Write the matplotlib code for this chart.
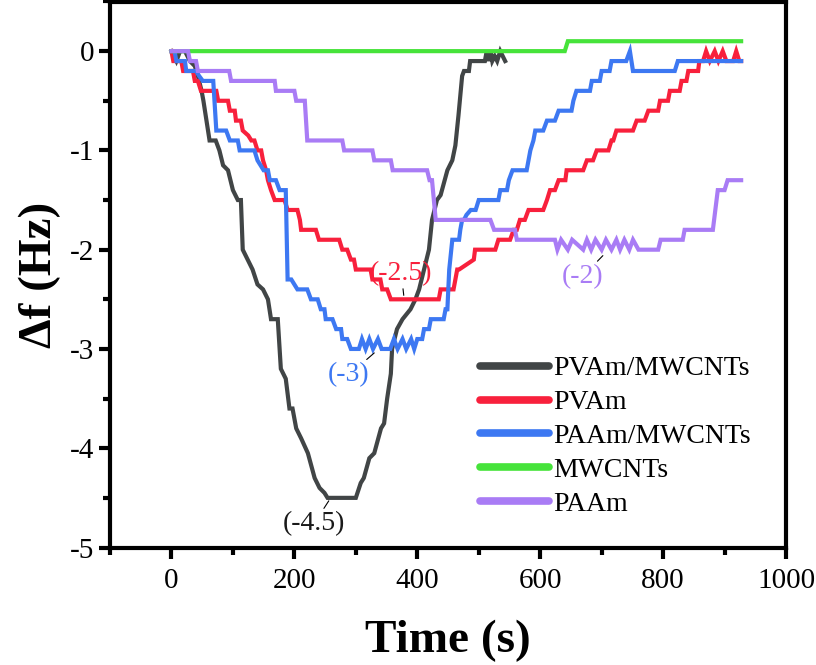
import numpy as np
import matplotlib
matplotlib.use("Agg")
import matplotlib.pyplot as plt
from matplotlib.ticker import MultipleLocator

plt.rcParams['font.family'] = ['Liberation Serif', 'DejaVu Serif']
plt.rcParams['axes.unicode_minus'] = False

# PVAm/MWCNTs
t_pvam_cnt = [0, 8, 14, 22, 30, 38, 43, 49, 52, 57, 62, 72, 78, 84, 92, 100, 108, 113, 116, 124, 132, 140,
              149, 157, 162, 173, 178, 186, 192, 197, 203, 211, 222, 233, 241, 249, 254, 300, 308, 313, 322,
              330, 341, 346, 351, 357, 359, 367, 376, 389, 397, 403, 411, 419, 424, 432, 438, 449, 457, 462,
              467, 473, 476, 484, 486, 510, 513, 516, 519, 522, 526, 530, 535, 543]
f_pvam_cnt = [0, -0.1, 0, 0, -0.1, -0.15, -0.25, -0.4, -0.5, -0.7, -0.9, -0.9, -1.0, -1.15, -1.2, -1.4,
              -1.5, -1.5, -2.0, -2.1, -2.2, -2.35, -2.4, -2.5, -2.7, -2.7, -3.2, -3.3, -3.6, -3.6, -3.8,
              -3.9, -4.05, -4.3, -4.4, -4.45, -4.5, -4.5, -4.35, -4.3, -4.1, -4.05, -3.8, -3.75, -3.5,
              -3.25, -3.0, -2.8, -2.7, -2.6, -2.5, -2.4, -2.2, -2.0, -1.7, -1.5, -1.45, -1.2, -1.1, -0.95,
              -0.65, -0.25, -0.2, -0.2, -0.1, -0.1, 0, -0.1, 0, -0.1, -0.05, -0.1, 0, -0.1]

# PVAm
t_pvam = [0, 3, 16, 19, 35, 38, 43, 48, 73, 76, 92, 95, 103, 105, 113, 116, 125, 130, 135, 140, 146, 149,
          154, 157, 162, 168, 184, 189, 205, 209, 211, 235, 240, 273, 278, 286, 292, 297, 300, 324, 327,
          340, 343, 351, 357, 435, 438, 459, 462, 465, 468, 492, 494, 527, 532, 551, 557, 562, 567, 575,
          581, 605, 611, 616, 624, 630, 641, 643, 670, 676, 686, 692, 711, 716, 719, 724, 751, 757, 770,
          776, 792, 795, 808, 811, 827, 830, 838, 841, 857, 859, 865, 870, 876, 884, 890, 897, 903, 914,
          919, 924, 927]
f_pvam = [0, -0.1, -0.1, -0.2, -0.2, -0.3, -0.3, -0.4, -0.4, -0.5, -0.5, -0.6, -0.6, -0.7, -0.7, -0.8,
          -0.85, -0.9, -0.9, -1.0, -1.0, -1.1, -1.2, -1.3, -1.4, -1.5, -1.5, -1.6, -1.6, -1.7, -1.8, -1.8,
          -1.9, -1.9, -2.0, -2.0, -2.1, -2.1, -2.2, -2.2, -2.3, -2.3, -2.4, -2.4, -2.5, -2.5, -2.4, -2.4,
          -2.3, -2.2, -2.2, -2.1, -2.0, -2.0, -1.9, -1.9, -1.8, -1.8, -1.7, -1.7, -1.6, -1.6, -1.5, -1.4,
          -1.4, -1.3, -1.3, -1.2, -1.2, -1.1, -1.1, -1.0, -1.0, -0.9, -0.9, -0.8, -0.8, -0.7, -0.7, -0.6,
          -0.6, -0.5, -0.5, -0.4, -0.4, -0.3, -0.3, -0.2, -0.2, -0.1, -0.1, 0, -0.1, 0, -0.1, 0, -0.1,
          -0.1, 0, -0.1, -0.1]

# PAAm/MWCNTs
t_paam_cnt = [0, 5, 8, 22, 24, 40, 45, 51, 68, 73, 89, 95, 108, 111, 135, 140, 150, 157, 160, 170, 176,
              186, 189, 195, 205, 221, 227, 238, 243, 249, 251, 262, 268, 276, 278, 286, 292, 305, 310,
              316, 322, 328, 336, 342, 356, 362, 368, 376, 382, 390, 395, 400, 408, 411, 419, 422, 443,
              446, 449, 452, 457, 468, 470, 473, 476, 480, 487, 495, 500, 532, 535, 546, 549, 555, 578,
              581, 584, 589, 592, 605, 611, 624, 630, 651, 654, 659, 681, 684, 697, 700, 713, 716, 740,
              746, 751, 819, 824, 927]
f_paam_cnt = [0, 0, -0.1, -0.1, -0.2, -0.2, -0.25, -0.3, -0.3, -0.8, -0.8, -0.9, -0.9, -1.0, -1.0, -1.1,
              -1.2, -1.2, -1.3, -1.3, -1.4, -1.4, -2.3, -2.3, -2.4, -2.4, -2.5, -2.5, -2.6, -2.6, -2.7,
              -2.7, -2.8, -2.8, -2.9, -2.9, -3.0, -3.0, -2.9, -3.0, -2.9, -3.0, -2.9, -3.0, -3.0, -2.9,
              -3.0, -2.9, -3.0, -2.9, -3.0, -2.9, -2.9, -2.8, -2.8, -2.7, -2.7, -2.6, -2.6, -2.2, -1.9,
              -1.9, -1.8, -1.7, -1.7, -1.65, -1.6, -1.6, -1.5, -1.5, -1.4, -1.4, -1.3, -1.2, -1.2, -1.1,
              -1.0, -0.9, -0.8, -0.8, -0.7, -0.7, -0.6, -0.6, -0.5, -0.4, -0.4, -0.3, -0.3, -0.2, -0.2,
              -0.1, -0.1, 0, -0.2, -0.2, -0.1, -0.1]

# MWCNTs
t_cnt = [0, 640, 645, 927]
f_cnt = [0, 0, 0.1, 0.1]

# PAAm
t_paam = [0, 27, 30, 40, 43, 94, 97, 168, 170, 200, 203, 217, 221, 278, 281, 327, 330, 357, 360, 416, 420,
          424, 430, 519, 525, 559, 562, 624, 628, 634, 645, 652, 670, 676, 683, 690, 700, 707, 716, 724,
          730, 737, 745, 751, 760, 792, 796, 832, 835, 881, 885, 889, 900, 905, 927]
f_paam = [0, 0, -0.1, -0.1, -0.2, -0.2, -0.3, -0.3, -0.4, -0.4, -0.5, -0.5, -0.9, -0.9, -1.0, -1.0, -1.1,
          -1.1, -1.2, -1.2, -1.3, -1.3, -1.7, -1.7, -1.8, -1.8, -1.9, -1.9, -2.0, -1.9, -2.0, -1.9, -2.0,
          -1.9, -2.0, -1.9, -2.0, -1.9, -2.0, -1.9, -2.0, -1.9, -2.0, -1.9, -2.0, -2.0, -1.9, -1.9, -1.8,
          -1.8, -1.6, -1.4, -1.4, -1.3, -1.3]

labels = ['PVAm/MWCNTs', 'PVAm', 'PAAm/MWCNTs', 'MWCNTs', 'PAAm']
colors = ['#414546', '#f8203c', '#3d78f2', '#46e33a', '#a97cf5']

# minimum values marked on the plot
notes = ['(-4.5)', '(-2.5)', '(-3)', '(-2)']
note_xy = [(256, -4.53), (378, -2.46), (330, -3.04), (702, -2.06)]
note_text = [(232, -4.76), (374, -2.24), (289, -3.26), (669, -2.27)]
note_col = ['#1a1a1a', '#f8203c', '#3d78f2', '#a97cf5']

fig = plt.figure(figsize=(8.16, 6.65), dpi=100)
ax = fig.add_axes([110/816, 1 - 547.5/665, 676/816, 546/665])

series = [(t_pvam_cnt, f_pvam_cnt), (t_pvam, f_pvam), (t_paam_cnt, f_paam_cnt), (t_cnt, f_cnt), (t_paam, f_paam)]
for (t, f), lab, c in zip(series, labels, colors):
    ax.plot(t, f, color=c, lw=3, label=lab, solid_joinstyle='miter')

for txt, xy, xyt, c in zip(notes, note_xy, note_text, note_col):
    ax.annotate(txt, xy=xy, xytext=xyt, color=c, fontsize=20, ha='center', va='center',
                arrowprops=dict(arrowstyle='-', color='k', lw=0.8, shrinkA=0, shrinkB=0))

ax.set_xlim(-100, 1000)
ax.set_ylim(-5, 0.5)
ax.xaxis.set_major_locator(MultipleLocator(200))
ax.xaxis.set_minor_locator(MultipleLocator(100))
ax.yaxis.set_major_locator(MultipleLocator(1))
ax.yaxis.set_minor_locator(MultipleLocator(0.5))
ax.tick_params(which='both', direction='out', width=3, labelsize=21)
ax.tick_params(which='major', length=8)
ax.tick_params(which='minor', length=5)
ax.tick_params(axis='x', pad=7)
for s in ax.spines.values():
    s.set_linewidth(3)

ax.set_xlabel('Time (s)', fontsize=34, fontweight='bold', labelpad=18)
ax.set_ylabel('Δf (Hz)', fontsize=34, fontweight='bold', labelpad=6)

leg = ax.legend(loc='upper left', bbox_to_anchor=(480/816, 1 - 356/665), bbox_transform=fig.transFigure,
                frameon=False, fontsize=20, handlelength=2.5, handletextpad=0.15, labelspacing=0.3,
                borderpad=0, borderaxespad=0)
for ln in leg.get_lines():
    ln.set_linewidth(5.5)
    ln.set_solid_capstyle('round')

fig.savefig('out.png', dpi=100)
